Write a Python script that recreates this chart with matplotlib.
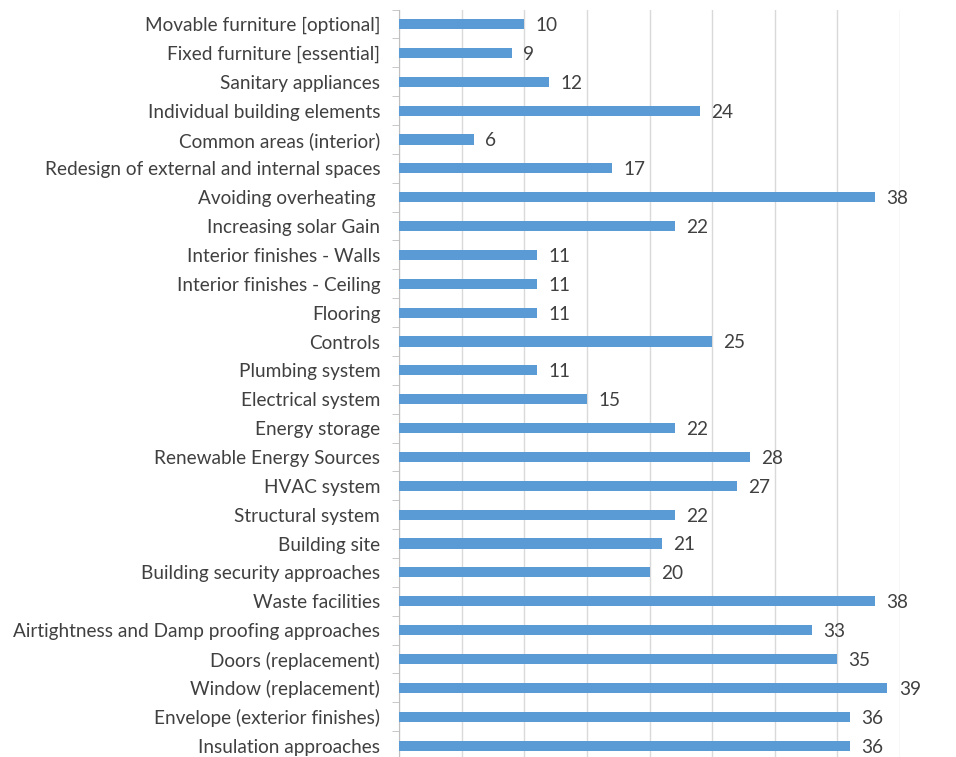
import numpy as np
import matplotlib
matplotlib.use("Agg")
import matplotlib.pyplot as plt

categories = [
    "Movable furniture [optional]",
    "Fixed furniture [essential]",
    "Sanitary appliances",
    "Individual building elements",
    "Common areas (interior)",
    "Redesign of external and internal spaces",
    "Avoiding overheating ",
    "Increasing solar Gain",
    "Interior finishes - Walls",
    "Interior finishes - Ceiling",
    "Flooring",
    "Controls",
    "Plumbing system",
    "Electrical system",
    "Energy storage",
    "Renewable Energy Sources",
    "HVAC system",
    "Structural system",
    "Building site",
    "Building security approaches",
    "Waste facilities",
    "Airtightness and Damp proofing approaches",
    "Doors (replacement)",
    "Window (replacement)",
    "Envelope (exterior finishes)",
    "Insulation approaches",
]
values = [10, 9, 12, 24, 6, 17, 38, 22, 11, 11, 11, 25, 11, 15, 22, 28, 27, 22, 21, 20, 38, 33, 35, 39, 36, 36]

plt.rcParams['font.family'] = ['Lato', 'DejaVu Sans']
text_col = '#404040'
fs = 13.7

fig = plt.figure(figsize=(9.56, 7.57), dpi=100)
# axes from x=399px to 900px, y from ~9.6px to ~760px
ax = fig.add_axes([399/956, 1 - 760/757, (900-399)/956, (760-9.6)/757])

y = np.arange(len(categories))
ax.barh(y, values, height=0.35, color='#5B9BD5', zorder=3)
for yi, v in zip(y, values):
    ax.text(v + 0.9, yi + 0.05, str(v), va='center', ha='left', fontsize=fs, color=text_col, clip_on=False)

ax.set_xlim(0, 40)
ax.set_ylim(len(categories) - 0.5, -0.5)
ax.set_xticks(np.arange(0, 41, 5))
ax.xaxis.grid(True, color='#D9D9D9', linewidth=1, zorder=0)
ax.tick_params(axis='x', length=0, labelbottom=False)

ax.set_yticks(y)
ax.set_yticklabels(categories, fontsize=fs, color=text_col)
ax.tick_params(axis='y', which='major', length=0, pad=13.5)
ax.set_yticks(np.arange(-0.5, len(categories), 1), minor=True)
ax.tick_params(axis='y', which='minor', length=5, color='#BFBFBF', direction='out')

for s in ['top', 'right', 'bottom']:
    ax.spines[s].set_visible(False)
ax.spines['left'].set_color('#BFBFBF')

fig.savefig('out.png', dpi=100)
